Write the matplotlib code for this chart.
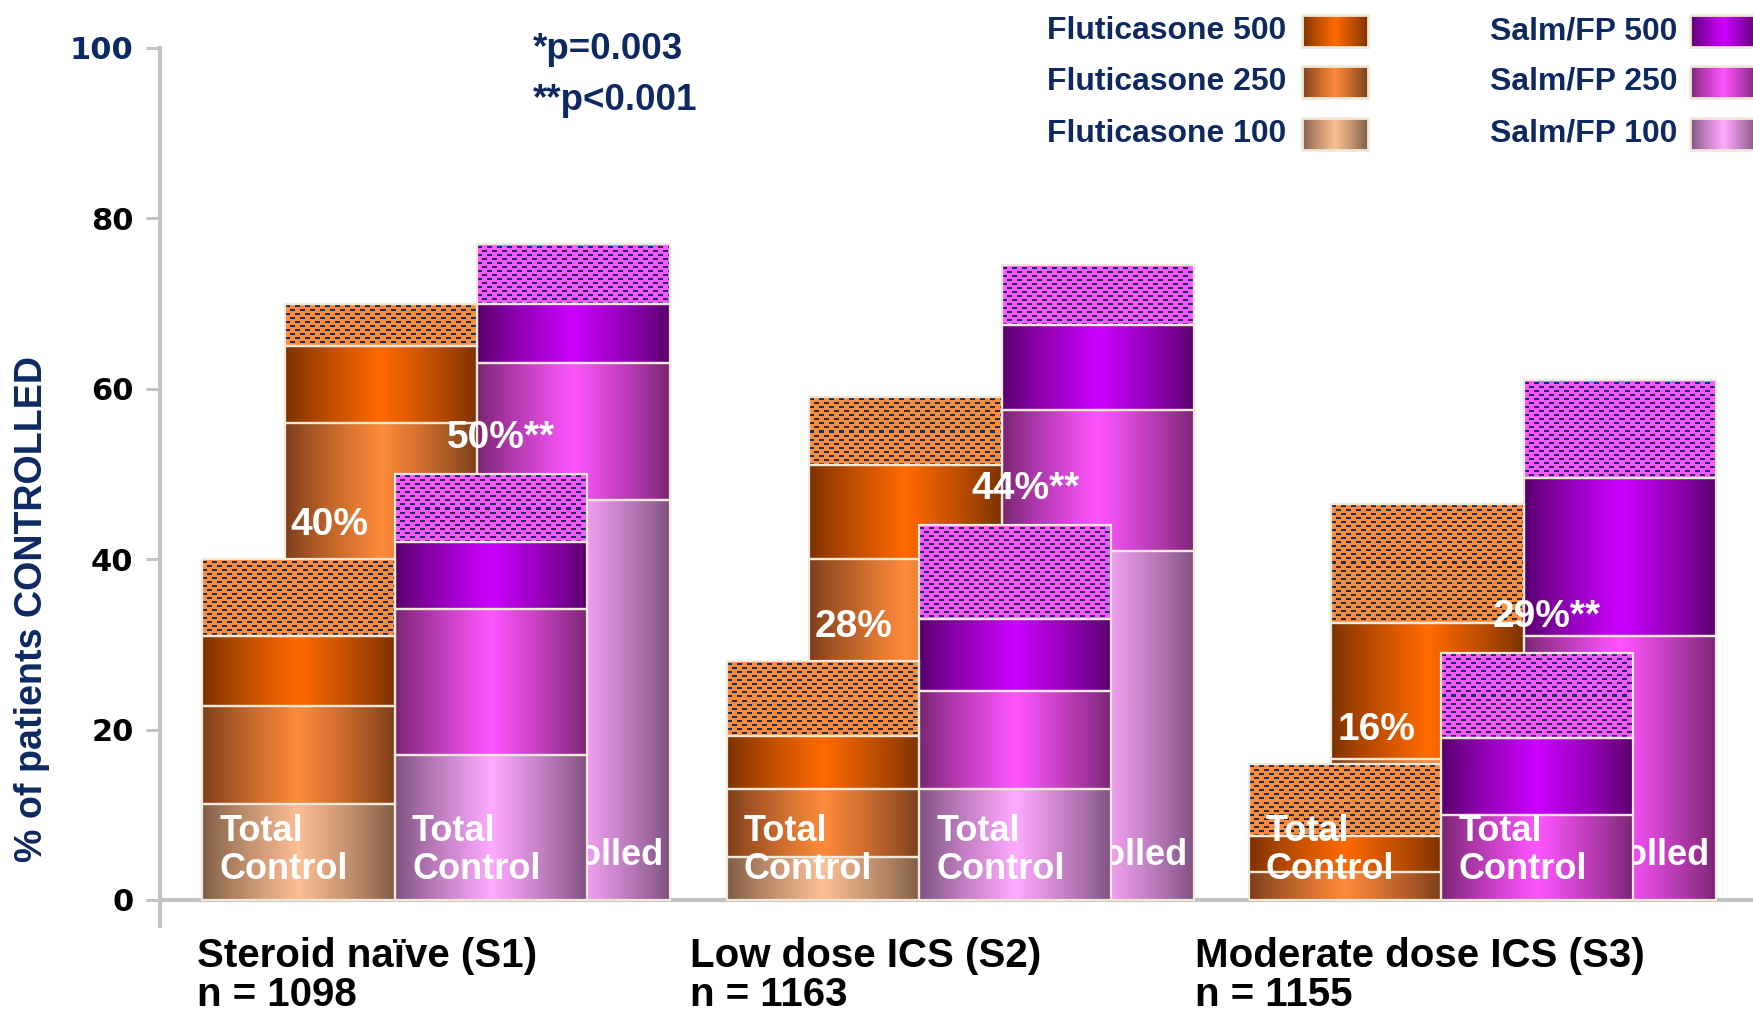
import numpy as np
import matplotlib
matplotlib.use("Agg")
import matplotlib.pyplot as plt
from matplotlib import font_manager
from matplotlib.colors import to_rgb
from matplotlib.patches import Rectangle

# ---------------------------------------------------------------- data
groups = ["Steroid naïve (S1)", "Low dose ICS (S2)", "Moderate dose ICS (S3)"]
group_n = ["n = 1098", "n = 1163", "n = 1155"]
steps = ["100", "250", "500", "phase II"]

# cumulative % of patients controlled after each dose step
fp_total = [[11.3, 22.8, 31.0, 40], [5.1, 13.0, 19.3, 28], [0, 3.3, 7.5, 16]]
sfc_total = [[17.0, 34.2, 42.0, 50], [13.0, 24.5, 33.0, 44], [0, 10.0, 19.0, 29]]
fp_well = [[31.0, 56.0, 65.0, 70], [14.0, 40.0, 51.0, 59], [0, 16.5, 32.5, 46.5]]
sfc_well = [[47.0, 63.0, 70.0, 77], [41.0, 57.5, 67.5, 74.5], [0, 31.0, 49.5, 61]]
sfc_sig = ["**", "**", "**"]
p_notes = ["*p=0.003", "**p<0.001"]

fp_names = ["Fluticasone 500", "Fluticasone 250", "Fluticasone 100"]
sfc_names = ["Salm/FP 500", "Salm/FP 250", "Salm/FP 100"]
yticks = [0, 20, 40, 60, 80, 100]

# ---------------------------------------------------------------- style
NAVY = "#0e2862"
EDGE = "#efe9da"
DASH = "#17305a"
FP_COLORS = {"500": ("#7a3000", "#ff6a00"),
             "250": ("#7a3c1a", "#ff8b3b"),
             "100": ("#7d5b44", "#fdbf94")}
SFC_COLORS = {"500": ("#560068", "#cc00ff"),
              "250": ("#76246f", "#ff55ff"),
              "100": ("#7b4f7d", "#ffaaff")}
FP_HATCH_BG = "#ff8a3a"
SFC_HATCH_BG = "#ff55ff"

names = {f.name for f in font_manager.fontManager.ttflist}
HAS_NARROW = "Liberation Sans Narrow" in names
NARROW = "Liberation Sans Narrow" if HAS_NARROW else "Liberation Sans"
NSCALE = 1.0 if HAS_NARROW else 0.82
SANS = "Liberation Sans"

W = 1.0            # bar width
BACK_DX = 0.43     # shift of the back row of bars
group_x = [0.0, 2.726, 5.44]
cat_label_x = [-0.03, 2.535, 5.16]
XLIM = (-0.2205, 8.063)
YLIM = (-3.5, 100.5)


def gradient(edge, center, n=256):
    t = np.linspace(0, 1, n)
    f = 1 - np.abs(2 * t - 1)
    f = np.clip(f, 0, 1) ** 0.85
    e = np.array(to_rgb(edge))
    c = np.array(to_rgb(center))
    row = e + (c - e) * f[:, None]
    return np.repeat(row[None, :, :], 2, axis=0)


def dash_texture(wpx, hpx, bg):
    wpx = max(int(round(wpx)), 2)
    hpx = max(int(round(hpx)), 2)
    img = np.empty((hpx, wpx, 3))
    img[:] = to_rgb(bg)
    d = np.array(to_rgb(DASH))
    for k, y in enumerate(range(2, hpx - 1, 4)):
        off = 0 if k % 2 == 0 else 5
        for x in range(off - 10, wpx, 10):
            x0, x1 = max(x, 0), min(x + 5, wpx)
            if x1 > x0:
                img[y:y + 2, x0:x1] = d
    return img


fig = plt.figure(figsize=(17.53, 10.16), dpi=100)
fig.patch.set_facecolor("white")
ax_bottom = 929.8
ax_top = 43.7
ax = fig.add_axes([160 / 1753, 1 - ax_bottom / 1016,
                   (1753 - 160) / 1753, (ax_bottom - ax_top) / 1016])
ax.set_xlim(*XLIM)
ax.set_ylim(*YLIM)
ax.set_autoscale_on(False)

p0 = ax.transData.transform((0, 0))
p1 = ax.transData.transform((1, 1))
PX_X = p1[0] - p0[0]
PX_Y = p1[1] - p0[1]


def draw_stack(x_left, cum, palette, hatch_bg, z):
    prev = 0.0
    for step, top in zip(steps, cum):
        h = top - prev
        if h <= 0:
            prev = top
            continue
        bar = ax.bar(x_left, h, width=W, bottom=prev, align="edge",
                     facecolor="none", edgecolor=EDGE, linewidth=1.6,
                     zorder=z + 0.2)[0]
        ext = [bar.get_x(), bar.get_x() + bar.get_width(),
               bar.get_y(), bar.get_y() + bar.get_height()]
        if step == "phase II":
            img = dash_texture(W * PX_X, h * PX_Y, hatch_bg)
            ax.imshow(img, extent=ext, aspect="auto", origin="upper",
                      interpolation="nearest", zorder=z)
        else:
            edge, center = palette[step]
            ax.imshow(gradient(edge, center), extent=ext, aspect="auto",
                      interpolation="bilinear", zorder=z)
        prev = top


for gi, gx in enumerate(group_x):
    # back row: well controlled
    draw_stack(gx + BACK_DX, fp_well[gi], FP_COLORS, FP_HATCH_BG, 2)
    draw_stack(gx + BACK_DX + W, sfc_well[gi], SFC_COLORS, SFC_HATCH_BG, 2)
    # caption of the back bar: only the strip right of the front bar shows
    bx = gx + BACK_DX + W
    wc = ax.text(bx + W - 0.035, 5.2, "Well Controlled", ha="right",
                 va="center", color="white", fontsize=26,
                 fontweight="bold", family=SANS, zorder=2.5)
    strip = Rectangle((gx + 2 * W, 0), BACK_DX, 40, transform=ax.transData)
    wc.set_clip_path(strip)
    # front row: total control
    draw_stack(gx, fp_total[gi], FP_COLORS, FP_HATCH_BG, 3)
    draw_stack(gx + W, sfc_total[gi], SFC_COLORS, SFC_HATCH_BG, 3)
    for fx in (gx, gx + W):
        ax.text(fx + 0.09, 5.8, "Total\nControl", ha="left", va="center",
                color="white", fontsize=26, fontweight="bold", family=SANS,
                linespacing=1.13, zorder=6)
    # totals for total control
    fp_top = fp_total[gi][-1]
    sfc_top = sfc_total[gi][-1]
    ax.text(gx + BACK_DX + 0.03, fp_top + 4.0, f"{fp_top:.0f}%",
            ha="left", va="center", color="white", fontsize=28,
            fontweight="bold", family=SANS, zorder=6)
    ax.text(gx + BACK_DX + W - 0.16, sfc_top + 4.2,
            f"{sfc_top:.0f}%{sfc_sig[gi]}", ha="left", va="center",
            color="white", fontsize=28, fontweight="bold", family=SANS,
            zorder=6)
    # group captions
    ax.text(cat_label_x[gi], -8.9, f"{groups[gi]}\n{group_n[gi]}",
            ha="left", va="center", color="black", fontsize=29,
            fontweight="bold", family=SANS, linespacing=1.04, clip_on=False)

# significance notes
ax.text(1.72, 99.8, p_notes[0], ha="left", va="center", color=NAVY,
        fontsize=26.5, fontweight="bold", family=SANS, clip_on=False)
ax.text(1.72, 93.8, p_notes[1], ha="left", va="center", color=NAVY,
        fontsize=26.5, fontweight="bold", family=SANS, clip_on=False)

# axes
AXIS_GREY = "#c3c3c3"
ax.axhline(0, color=AXIS_GREY, linewidth=3, zorder=1)
for s in ("top", "right", "bottom"):
    ax.spines[s].set_visible(False)
ax.spines["left"].set_color(AXIS_GREY)
ax.spines["left"].set_linewidth(3)
ax.spines["left"].set_bounds(-3, 100)
ax.set_yticks(yticks)
ax.set_yticklabels([str(v) for v in yticks])
ax.tick_params(axis="y", direction="out", length=10, width=2.2,
               color=AXIS_GREY, pad=9, labelsize=22)
for lab in ax.get_yticklabels():
    lab.set_fontfamily("DejaVu Sans")
    lab.set_fontweight("bold")
ax.get_yticklabels()[-1].set_color(NAVY)
ax.set_xticks([])
ax.patch.set_alpha(0)

fig.text(32 / 1753, 1 - 609 / 1016, "% of patients CONTROLLED",
         rotation=90, ha="center", va="center", color=NAVY,
         fontsize=33 * NSCALE, fontweight="bold", family=NARROW)

# legend
lax = fig.add_axes([0, 0, 1, 1], zorder=10)
lax.patch.set_alpha(0)
lax.axis("off")
row_y = [31, 82, 134]
for i, yc in enumerate(row_y):
    step = ["500", "250", "100"][i]
    for text_x, sw_x, label, pal in ((1286, 1302, fp_names[i], FP_COLORS),
                                     (1677, 1690, sfc_names[i], SFC_COLORS)):
        lax.text(text_x, yc, label, ha="right", va="center", color=NAVY,
                 fontsize=28 * NSCALE, fontweight="bold", family=NARROW)
        edge, center = pal[step]
        lax.imshow(gradient(edge, center), extent=(sw_x, sw_x + 66, yc + 16, yc - 16),
                   aspect="auto", interpolation="bilinear", zorder=1)
        lax.add_patch(Rectangle((sw_x, yc - 16), 66, 32, facecolor="none",
                                edgecolor=EDGE, linewidth=2, zorder=2))
lax.set_xlim(0, 1753)
lax.set_ylim(1016, 0)

ax.set_xlim(*XLIM)
ax.set_ylim(*YLIM)
fig.savefig("out.png", dpi=100, facecolor="white")
